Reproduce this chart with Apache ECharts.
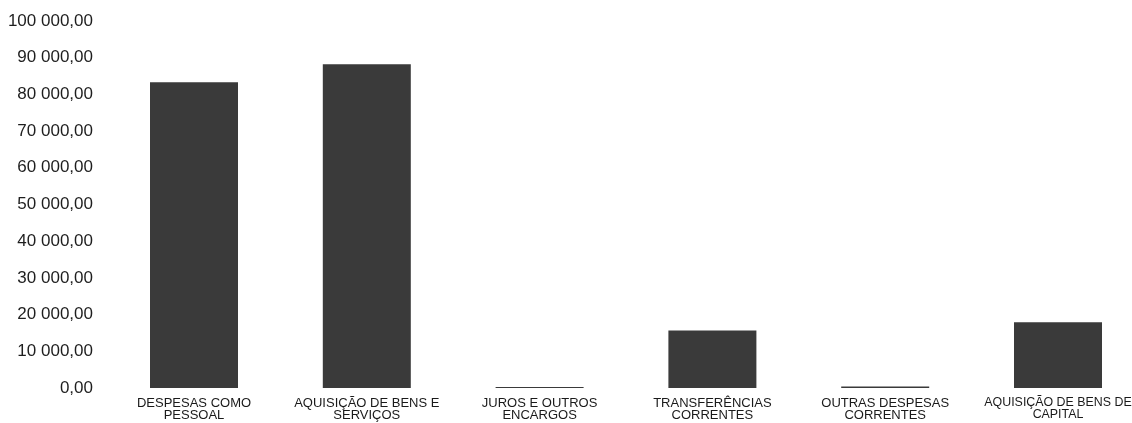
<!DOCTYPE html>
<html>
<head>
<meta charset="utf-8">
<script src="https://cdn.jsdelivr.net/npm/echarts@6/dist/echarts.min.js"></script>
<style>
html,body{margin:0;padding:0;background:#fff;overflow:hidden;width:1132px;height:423px;}
#chart{width:1145px;height:423px;}
</style>
</head>
<body>
<div id="chart"></div>
<script>
const categories = [
  "DESPESAS COMO\nPESSOAL",
  "AQUISIÇÃO DE BENS E\nSERVIÇOS",
  "JUROS E OUTROS\nENCARGOS",
  "TRANSFERÊNCIAS\nCORRENTES",
  "OUTRAS DESPESAS\nCORRENTES",
  "AQUISIÇÃO DE BENS DE\nCAPITAL"
];
const values = [83300, 88200, 300, 15700, 400, 17900];
const yMin = 0, yMax = 100000, yInterval = 10000;

function fmt(v) {
  const parts = v.toFixed(2).split('.');
  const intPart = parts[0].replace(/\B(?=(\d{3})+(?!\d))/g, ' ');
  return intPart + ',' + parts[1];
}

const chart = echarts.init(document.getElementById('chart'));
chart.setOption({
  animation: false,
  backgroundColor: '#ffffff',
  grid: { left: 107.6, right: 0.6, top: 21, bottom: 35, containLabel: false },
  xAxis: {
    type: 'category',
    data: categories,
    axisLine: { show: false },
    axisTick: { show: false },
    splitLine: { show: false },
    axisLabel: {
      interval: 0,
      margin: 9,
      fontFamily: 'Liberation Sans, Arial, sans-serif',
      fontSize: 13,
      lineHeight: 12,
      color: '#1a1a1a',
      formatter: function (v, i) {
        if (i === categories.length - 1) {
          return v.split('\n').map(function (s) { return '{s|' + s + '}'; }).join('\n');
        }
        return v;
      },
      rich: {
        s: { fontFamily: 'Liberation Sans, Arial, sans-serif', fontSize: 12.4, lineHeight: 12, color: '#1a1a1a' }
      }
    }
  },
  yAxis: {
    type: 'value',
    min: yMin,
    max: yMax,
    interval: yInterval,
    axisLine: { show: false },
    axisTick: { show: false },
    splitLine: { show: false },
    axisLabel: {
      margin: 14.6,
      fontFamily: 'Liberation Sans, Arial, sans-serif',
      fontSize: 17,
      color: '#1e1e1e',
      formatter: fmt
    }
  },
  series: [{
    type: 'bar',
    data: values,
    barWidth: 88,
    itemStyle: { color: '#3a3a3a' }
  }]
});
</script>
</body>
</html>
